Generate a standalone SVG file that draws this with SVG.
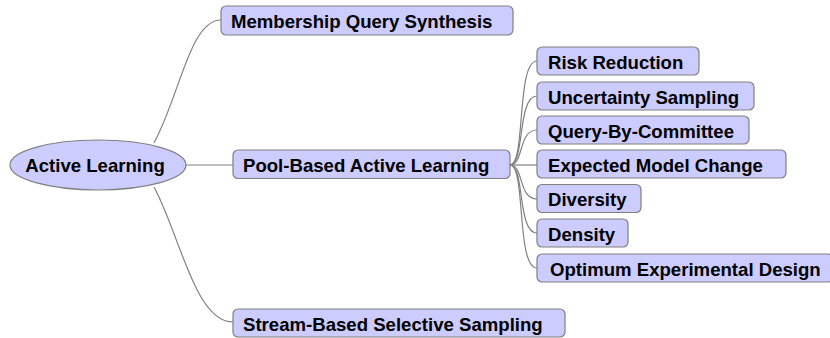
<svg xmlns="http://www.w3.org/2000/svg" width="830" height="338" viewBox="0 0 830 338">
<style>
.n{fill:#ccccff;stroke:#808080;stroke-width:1.2}
.t{font-family:"Liberation Sans",Arial,sans-serif;font-weight:bold;font-size:18.6px;fill:#000}
.c{fill:none;stroke:#808080;stroke-width:1.2}
</style>
<rect width="830" height="338" fill="#fff"/>
<g id="connectors">
<path class="c" d="M154,143 C180,95 190,20 221,20"/>
<path class="c" d="M186,165 L233,165"/>
<path class="c" d="M154,187 C180,235 195,322 233,322"/>
<path class="c" d="M510,165 C526,165 516,61 537,61"/>
<path class="c" d="M510,165 C525,165 517,96 537,96"/>
<path class="c" d="M510,165 C524,165 518,130 537,130"/>
<path class="c" d="M510,165 L537,165"/>
<path class="c" d="M510,165 C524,165 518,199 537,199"/>
<path class="c" d="M510,165 C525,165 517,233 537,233"/>
<path class="c" d="M510,165 C526,165 516,268 537,268"/>
</g>
<g id="active-learning">
<ellipse class="n" cx="98" cy="165" rx="88" ry="25"/>
<text class="t" x="95" y="172" text-anchor="middle">Active Learning</text>
</g>
<g id="membership-query-synthesis">
<rect class="n" x="221" y="6" width="292" height="29" rx="5"/>
<text class="t" x="231" y="27.5">Membership Query Synthesis</text>
</g>
<g id="pool-based-active-learning">
<rect class="n" x="233" y="150" width="277" height="28.5" rx="5"/>
<text class="t" x="243" y="171.5">Pool-Based Active Learning</text>
</g>
<g id="stream-based-selective-sampling">
<rect class="n" x="233" y="309" width="332" height="28" rx="5"/>
<text class="t" x="243" y="330.5">Stream-Based Selective Sampling</text>
</g>
<g id="risk-reduction">
<rect class="n" x="537" y="47" width="162" height="28" rx="5"/>
<text class="t" x="548" y="68.5">Risk Reduction</text>
</g>
<g id="uncertainty-sampling">
<rect class="n" x="537" y="82" width="217" height="28" rx="5"/>
<text class="t" x="548" y="103.5">Uncertainty Sampling</text>
</g>
<g id="query-by-committee">
<rect class="n" x="537" y="116" width="212" height="28" rx="5"/>
<text class="t" x="548" y="137.5">Query-By-Committee</text>
</g>
<g id="expected-model-change">
<rect class="n" x="537" y="150" width="249" height="28" rx="5"/>
<text class="t" x="548" y="171.5">Expected Model Change</text>
</g>
<g id="diversity">
<rect class="n" x="537" y="184.5" width="104" height="28" rx="5"/>
<text class="t" x="548" y="206">Diversity</text>
</g>
<g id="density">
<rect class="n" x="537" y="219" width="91" height="28" rx="5"/>
<text class="t" x="548" y="240.5">Density</text>
</g>
<g id="optimum-experimental-design">
<rect class="n" x="537" y="254" width="296" height="28" rx="5"/>
<text class="t" x="550" y="275.5">Optimum Experimental Design</text>
</g>
</svg>
